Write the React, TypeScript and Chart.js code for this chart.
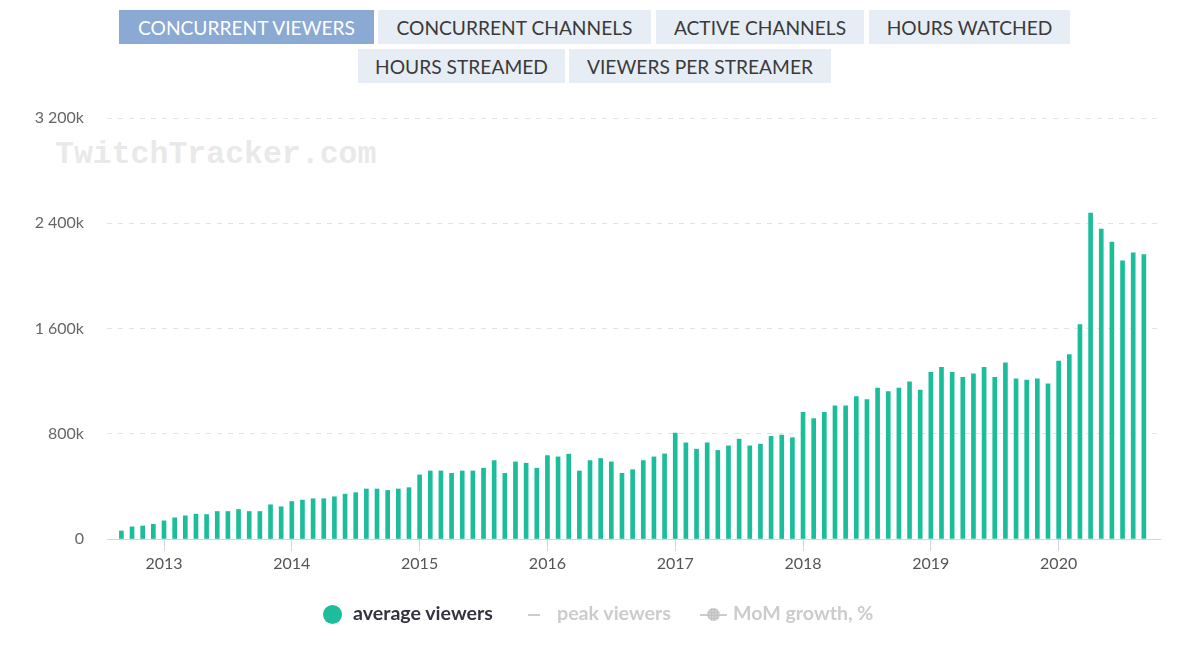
import React, { useEffect, useRef } from "react";
import { Chart, registerables } from "chart.js";

Chart.register(...registerables);

// ---- data (average concurrent viewers, thousands) ----
const YEARS = [2012, 2013, 2014, 2015, 2016, 2017, 2018, 2019, 2020];
const FIRST_MONTH = [9, 1, 1, 1, 1, 1, 1, 1, 1];
const VIEWERS_2012 = [61, 92, 99, 112];
const VIEWERS_2013 = [138, 161, 176, 189, 186, 209, 209, 224, 209, 209, 260, 245];
const VIEWERS_2014 = [285, 296, 306, 306, 321, 341, 352, 380, 380, 369, 380, 390];
const VIEWERS_2015 = [487, 517, 517, 499, 517, 517, 538, 596, 499, 586, 576, 538];
const VIEWERS_2016 = [634, 624, 645, 517, 596, 612, 586, 499, 527, 596, 624, 647];
const VIEWERS_2017 = [805, 731, 683, 731, 673, 708, 759, 708, 721, 780, 790, 770];
const VIEWERS_2018 = [963, 915, 963, 1012, 1012, 1083, 1060, 1147, 1121, 1147, 1195, 1131];
const VIEWERS_2019 = [1266, 1304, 1266, 1228, 1256, 1304, 1228, 1340, 1218, 1207, 1218, 1180];
const VIEWERS_2020 = [1352, 1401, 1629, 2478, 2356, 2257, 2115, 2176, 2161];
const VIEWERS_BY_YEAR = [
  VIEWERS_2012, VIEWERS_2013, VIEWERS_2014, VIEWERS_2015, VIEWERS_2016,
  VIEWERS_2017, VIEWERS_2018, VIEWERS_2019, VIEWERS_2020,
];
const YEAR_TICKS = [2013, 2014, 2015, 2016, 2017, 2018, 2019, 2020];
const Y_TICKS_K = [0, 800, 1600, 2400, 3200];
const X_MIN = 2012.554;
const X_MAX = 2020.793;

const BUTTONS_ROW1 = ["CONCURRENT VIEWERS", "CONCURRENT CHANNELS", "ACTIVE CHANNELS", "HOURS WATCHED"];
const BUTTONS_ROW2 = ["HOURS STREAMED", "VIEWERS PER STREAMER"];
const LEGEND_LABELS = ["average viewers", "peak viewers", "MoM growth, %"];

const BAR_COLOR = "#1bbd9b";

function fmtK(v: number): string {
  if (v === 0) return "0";
  if (v >= 1000) {
    const th = Math.floor(v / 1000);
    const rest = String(v % 1000).padStart(3, "0");
    return `${th} ${rest}k`;
  }
  return `${v}k`;
}

export default function App() {
  const canvasRef = useRef<HTMLCanvasElement | null>(null);

  useEffect(() => {
    if (!canvasRef.current) return;
    const points: { x: number; y: number }[] = [];
    VIEWERS_BY_YEAR.forEach((vals, i) => {
      vals.forEach((v, j) => {
        const month = FIRST_MONTH[i] + j;
        points.push({ x: YEARS[i] + (month - 1) / 12, y: v });
      });
    });

    Chart.defaults.font.family = "Lato";

    const chart = new Chart(canvasRef.current, {
      type: "bar",
      data: {
        datasets: [
          {
            label: LEGEND_LABELS[0],
            data: points,
            backgroundColor: BAR_COLOR,
            borderWidth: 0,
            barThickness: 4,
          },
        ],
      },
      options: {
        animation: false,
        responsive: true,
        maintainAspectRatio: false,
        layout: { padding: { left: 0, right: 38, top: 118, bottom: 69 } },
        plugins: { legend: { display: false }, tooltip: { enabled: false } },
        scales: {
          x: {
            type: "linear",
            min: X_MIN,
            max: X_MAX,
            bounds: "data",
            offset: false,
            afterFit: (s: any) => {
              s.height = 40;
            },
            afterBuildTicks: (s: any) => {
              s.ticks = YEAR_TICKS.map((v) => ({ value: v }));
            },
            grid: {
              offset: false,
              drawOnChartArea: false,
              drawTicks: true,
              tickLength: 12,
              color: "#ccd6eb",
            },
            border: { display: true, color: "#ccd6eb", width: 1 },
            ticks: {
              autoSkip: false,
              maxRotation: 0,
              padding: 3,
              color: "#555555",
              font: { size: 16, family: "Lato" },
              callback: (v: any) => String(v),
            },
          },
          y: {
            type: "linear",
            min: 0,
            max: 3200,
            bounds: "data",
            afterFit: (s: any) => {
              s.width = 107;
            },
            afterBuildTicks: (s: any) => {
              s.ticks = Y_TICKS_K.map((v) => ({ value: v }));
            },
            grid: {
              drawTicks: false,
              color: (ctx: any) => (ctx.tick && ctx.tick.value === 0 ? "rgba(0,0,0,0)" : "#e3e3e3"),
            },
            border: { display: false, dash: [5, 6] },
            ticks: {
              padding: 23,
              color: "#666666",
              font: { size: 16, family: "Lato" },
              callback: (v: any) => fmtK(Number(v)),
            },
          },
        },
      },
    });
    return () => chart.destroy();
  }, []);

  const btnBase: React.CSSProperties = {
    position: "absolute",
    height: 34,
    display: "flex",
    alignItems: "center",
    justifyContent: "center",
    fontFamily: "Lato",
    fontSize: 19.2,
    color: "#3a3a3a",
    background: "#e6edf5",
    boxSizing: "border-box",
    whiteSpace: "nowrap",
  };
  const row1Pos = [
    { left: 119, width: 255 },
    { left: 378, width: 273 },
    { left: 656, width: 208 },
    { left: 869, width: 201 },
  ];
  const row2Pos = [
    { left: 358, width: 207 },
    { left: 569, width: 262 },
  ];
  const legendText: React.CSSProperties = {
    position: "absolute",
    top: 600.5,
    lineHeight: "24px",
    fontSize: 19.6,
    fontWeight: "bold",
    whiteSpace: "nowrap",
  };

  return (
    <div
      style={{
        position: "absolute",
        left: 0,
        top: 0,
        width: 1198,
        height: 648,
        background: "#ffffff",
        overflow: "hidden",
        fontFamily: "Lato",
      }}
    >
      {BUTTONS_ROW1.map((t, i) => (
        <div
          key={t}
          style={{
            ...btnBase,
            top: 10,
            left: row1Pos[i].left,
            width: row1Pos[i].width,
            background: i === 0 ? "#8aa9d3" : "#e6edf5",
            color: i === 0 ? "#ffffff" : "#3a3a3a",
          }}
        >
          {t}
        </div>
      ))}
      {BUTTONS_ROW2.map((t, i) => (
        <div key={t} style={{ ...btnBase, top: 49, left: row2Pos[i].left, width: row2Pos[i].width }}>
          {t}
        </div>
      ))}

      <div
        style={{
          position: "absolute",
          left: 55,
          top: 139,
          fontFamily: "Liberation Mono",
          fontWeight: "bold",
          fontSize: 31.5,
          lineHeight: 1,
          color: "#e9e9e9",
          whiteSpace: "nowrap",
        }}
      >
        TwitchTracker.com
      </div>

      <div style={{ position: "absolute", left: 0, top: 0, width: 1198, height: 648 }}>
        <canvas ref={canvasRef} />
      </div>

      {/* legend */}
      <div
        style={{
          position: "absolute",
          left: 322.5,
          top: 605.2,
          width: 19,
          height: 19,
          borderRadius: 9.5,
          background: BAR_COLOR,
        }}
      />
      <div style={{ ...legendText, left: 353, color: "#333340" }}>{LEGEND_LABELS[0]}</div>
      <div
        style={{
          position: "absolute",
          left: 528,
          top: 613.5,
          width: 12,
          height: 2.5,
          background: "#cccccc",
        }}
      />
      <div style={{ ...legendText, left: 557, color: "#cccccc" }}>{LEGEND_LABELS[1]}</div>
      <div
        style={{
          position: "absolute",
          left: 700,
          top: 613.5,
          width: 27,
          height: 2.5,
          background: "#cccccc",
        }}
      />
      <div
        style={{
          position: "absolute",
          left: 706.8,
          top: 608.2,
          width: 13,
          height: 13,
          borderRadius: 6.5,
          background: "radial-gradient(circle, #bdbdbd 0.8px, #d6d6d6 1.6px)",
          backgroundSize: "3px 3px",
        }}
      />
      <div style={{ ...legendText, left: 733, color: "#cccccc" }}>{LEGEND_LABELS[2]}</div>
    </div>
  );
}
